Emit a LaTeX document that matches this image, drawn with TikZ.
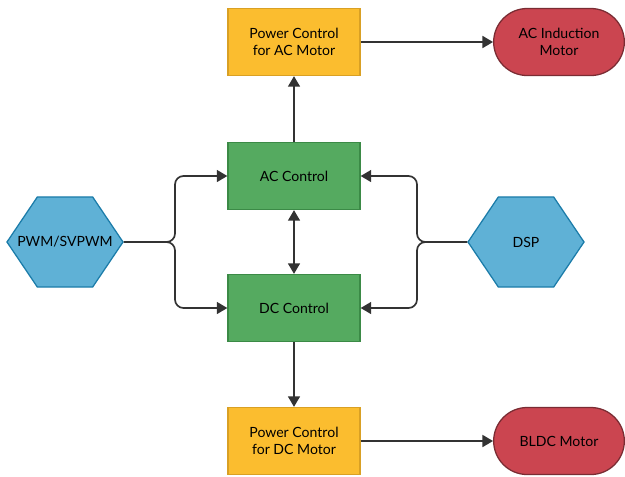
\documentclass[tikz,border=0pt]{standalone}
\usepackage{fontspec}
\setmainfont{Lato}
\usetikzlibrary{shapes.symbols,shapes.misc,arrows.meta}

\definecolor{ctrlfill}{HTML}{55AA60}
\definecolor{ctrldraw}{HTML}{3B8A46}
\definecolor{pwrfill}{HTML}{FBBD2F}
\definecolor{pwrdraw}{HTML}{D9A024}
\definecolor{motfill}{HTML}{CB4550}
\definecolor{motdraw}{HTML}{7A2C33}
\definecolor{hexfill}{HTML}{5FB1D6}
\definecolor{hexdraw}{HTML}{1B7CA9}
\definecolor{wire}{HTML}{333333}

\tikzset{
    box/.style={draw, line width=0.9pt, minimum width=3.3cm, minimum height=1.675cm, align=center, font=\normalsize},
    ctrl/.style={box, draw=ctrldraw, fill=ctrlfill},
    power/.style={box, draw=pwrdraw, fill=pwrfill},
    motor/.style={box, rounded rectangle, minimum width=3.5cm, draw=motdraw, fill=motfill},
    hexa/.style={signal, signal to=west and east, signal pointer angle=112, draw=hexdraw, fill=hexfill,
        line width=0.9pt, minimum width=2.9cm, minimum height=2.25cm, inner sep=0pt},
    tip/.tip={Triangle[length=7.5pt,width=8.5pt]},
    link/.style={wire, line width=1.2pt, -tip},
}

\begin{document}
\begin{tikzpicture}[x=0.025cm,y=-0.025cm]
    \useasboundingbox (0,0) rectangle (625,476);

    \node[power] (pwrac) at (294,42) {Power Control\\for AC Motor};
    \node[motor] (acmot) at (559,42) {AC Induction\\Motor};
    \node[ctrl] (acctl) at (294,176) {AC Control};
    \node[ctrl] (dcctl) at (294,308) {DC Control};
    \node[power] (pwrdc) at (294,441) {Power Control\\for DC Motor};
    \node[motor] (bldc) at (559,441) {BLDC Motor};
    \node[hexa, label=center:{PWM/SVPWM}] (pwm) at (65,242) {};
    \node[hexa, label=center:{DSP}] (dsp) at (526,242) {};

    % vertical chain
    \draw[link] (acctl) -- (pwrac);
    \draw[link] (pwrac) -- (acmot);
    \draw[link,tip-tip] (acctl) -- (dcctl);
    \draw[link] (dcctl) -- (pwrdc);
    \draw[link] (pwrdc) -- (bldc);

    % branches into the controls
    \coordinate (lj) at (175,242);
    \coordinate (rj) at (417,242);
    \draw[link,rounded corners=6pt] (pwm.east) -- (lj) |- (acctl.west);
    \draw[link,rounded corners=6pt] (pwm.east) -- (lj) |- (dcctl.west);
    \draw[link,rounded corners=6pt] (dsp.west) -- (rj) |- (acctl.east);
    \draw[link,rounded corners=6pt] (dsp.west) -- (rj) |- (dcctl.east);
\end{tikzpicture}
\end{document}
